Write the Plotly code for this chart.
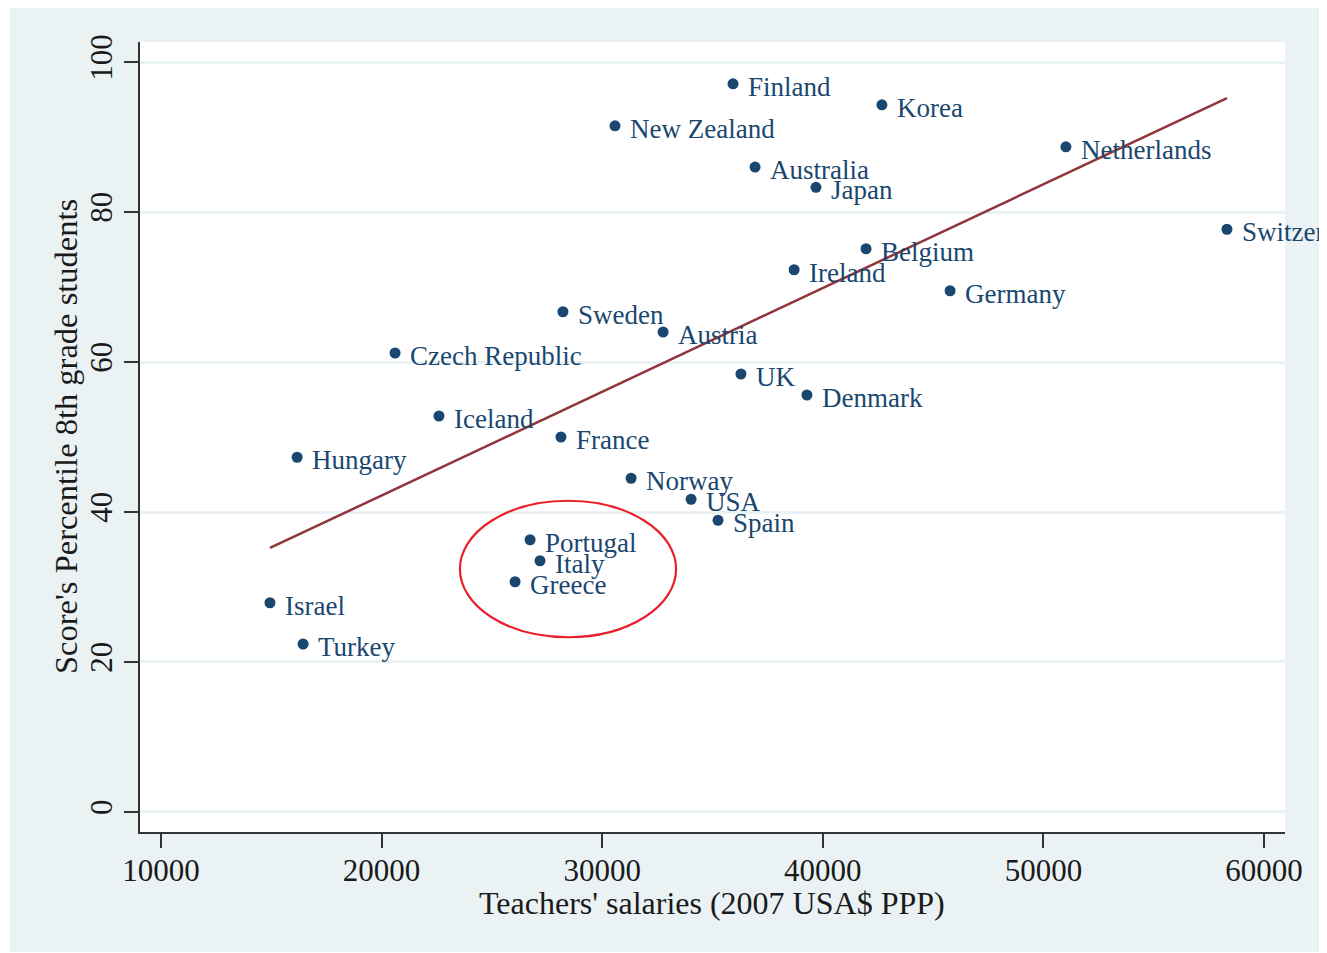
import plotly.graph_objects as go

countries = ["Finland", "Korea", "New Zealand", "Netherlands", "Australia", "Japan",
             "Switzerland", "Belgium", "Ireland", "Germany", "Sweden", "Austria",
             "Czech Republic", "UK", "Denmark", "Iceland", "France", "Hungary",
             "Norway", "USA", "Spain", "Portugal", "Italy", "Greece", "Israel", "Turkey"]
salary = [35930, 42680, 30580, 51020, 36930, 39690,
          58320, 41960, 38700, 45770, 28220, 32760,
          20610, 36290, 39280, 22600, 28130, 16170,
          31310, 34030, 35250, 26730, 27180, 26050, 14940, 16440]
score = [97.1, 94.3, 91.5, 88.7, 86.0, 83.3,
         77.7, 75.1, 72.3, 69.5, 66.7, 64.0,
         61.2, 58.4, 55.6, 52.8, 50.0, 47.3,
         44.5, 41.7, 38.9, 36.3, 33.5, 30.7, 27.9, 22.4]
x_ticks = [10000, 20000, 30000, 40000, 50000, 60000]
y_ticks = [0, 20, 40, 60, 80, 100]
fit_x = [14940, 58320]
fit_y = [35.2, 95.2]
circle_x = [23550, 33350]
circle_y = [23.3, 41.5]
x_title = "Teachers' salaries (2007 USA$ PPP)"
y_title = "Score's Percentile 8th grade students"

navy = "#1a476f"
maroon = "#90353b"
bg = "#eaf2f3"
serif = "Liberation Serif, Times New Roman, serif"
axis_col = "#333333"
txt_col = "#1a1a1a"

# figure geometry (pixels)
W, H = 1319, 945
ML, MR, MT, MB = 132, 42, 34, 121
pw = W - ML - MR
ph = H - MT - MB
# gray frame bounds in pixel coords relative to figure
gx0, gx1, gy0, gy1 = 2, 1313, 0, 944


def px(v):
    return (v - ML) / pw


def py(v):
    return 1 - (v - MT) / ph


fig = go.Figure()
fig.add_trace(go.Scatter(
    x=salary, y=score, mode="markers",
    marker=dict(size=11, color=navy),
    cliponaxis=False, showlegend=False))
for c, xv, yv in zip(countries, salary, score):
    fig.add_annotation(x=xv, y=yv, text=c, showarrow=False, xanchor="left", yanchor="middle",
                       xshift=13, yshift=-3,
                       font=dict(family=serif, size=27, color=navy))
fig.add_trace(go.Scatter(
    x=fit_x, y=fit_y, mode="lines",
    line=dict(color=maroon, width=2.5), showlegend=False))

fig.add_shape(type="circle", xref="x", yref="y",
              x0=circle_x[0], x1=circle_x[1], y0=circle_y[0], y1=circle_y[1],
              line=dict(color="#e8202a", width=2.2))

# gray frame around the plot area (outer background region)
frame = [
    (gx0, gy0, gx1, MT),            # top
    (gx0, MT + ph, gx1, gy1),       # bottom
    (gx0, MT, ML, MT + ph),         # left
    (ML + pw, MT, gx1, MT + ph),    # right
]
for a, b, c, d in frame:
    fig.add_shape(type="rect", xref="paper", yref="paper", layer="below",
                  x0=px(a), x1=px(c), y0=py(d), y1=py(b),
                  fillcolor=bg, line=dict(width=0))

# axis titles
fig.add_annotation(xref="paper", yref="paper", x=px(704), y=py(895), text=x_title,
                   showarrow=False, xanchor="center", yanchor="middle",
                   font=dict(family=serif, size=32, color=txt_col))
fig.add_annotation(xref="paper", yref="paper", x=px(58), y=py(429), text=y_title,
                   showarrow=False, xanchor="center", yanchor="middle", textangle=-90,
                   font=dict(family=serif, size=32.5, color=txt_col))

fig.update_xaxes(range=[9048, 60952], tickvals=x_ticks, ticktext=[str(v) for v in x_ticks],
                 showgrid=False, zeroline=False, showline=True, linecolor=axis_col, linewidth=2,
                 ticks="outside", ticklen=14, tickwidth=2, tickcolor=axis_col,
                 ticklabelstandoff=-4,
                 tickfont=dict(family=serif, size=31, color=txt_col))
fig.update_yaxes(range=[-2.67, 102.67], tickvals=y_ticks, ticktext=[str(v) for v in y_ticks],
                 tickangle=-90,
                 showgrid=True, gridcolor=bg, gridwidth=3, zeroline=False,
                 showline=True, linecolor=axis_col, linewidth=2,
                 ticks="outside", ticklen=14, tickwidth=2, tickcolor=axis_col,
                 tickfont=dict(family=serif, size=31, color=txt_col))

fig.update_layout(
    width=W, height=H,
    margin=dict(l=ML, r=MR, t=MT, b=MB, pad=0),
    paper_bgcolor="white", plot_bgcolor="white",
)
fig.write_html("out.html", config={"displayModeBar": False})
